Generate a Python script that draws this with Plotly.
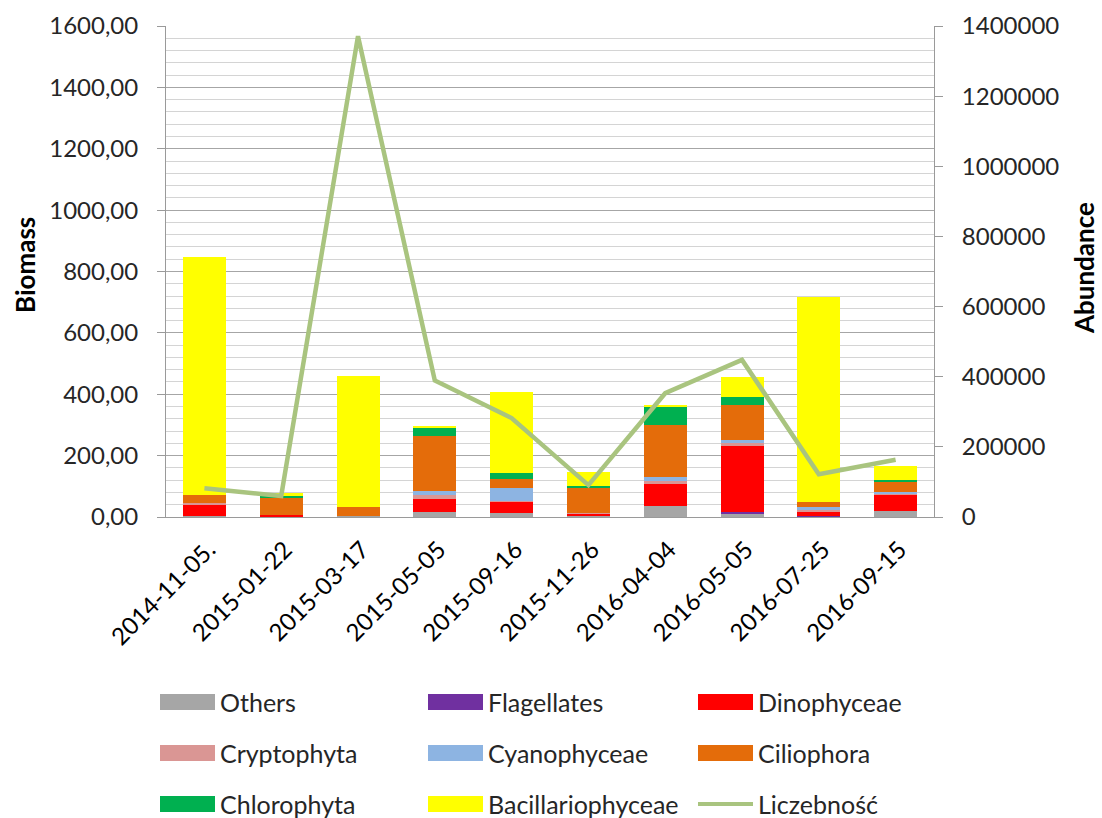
import plotly.graph_objects as go

dates = ["2014-11-05.", "2015-01-22", "2015-03-17", "2015-05-05", "2015-09-16",
         "2015-11-26", "2016-04-04", "2016-05-05", "2016-07-25", "2016-09-15"]

others = [3, 0, 3, 17, 12, 2, 35, 12, 0, 21]
flagellates = [0, 0, 0, 0, 0, 0, 0, 3, 3, 0]
dinophyceae = [37, 5, 0, 42, 38, 8, 73, 218, 16, 51]
cryptophyta = [5, 0, 0, 13, 3, 3, 9, 8, 5, 5]
cyanophyceae = [0, 0, 0, 12, 41, 0, 13, 9, 8, 6]
ciliophora = [27, 58, 29, 179, 30, 81, 169, 114, 16, 33]
chlorophyta = [0, 4, 0, 30, 19, 7, 58, 28, 0, 5]
bacillariophyceae = [775, 11, 427, 5, 263, 47, 7, 63, 670, 44]
liczebnosc = [82000, 60000, 1371000, 389000, 282000, 91000, 353000, 448000, 122000, 163000]

series_names = ["Others", "Flagellates", "Dinophyceae", "Cryptophyta", "Cyanophyceae",
                "Ciliophora", "Chlorophyta", "Bacillariophyceae"]
series_values = [others, flagellates, dinophyceae, cryptophyta, cyanophyceae,
                 ciliophora, chlorophyta, bacillariophyceae]
series_colors = ["#A6A6A6", "#7030A0", "#FF0000", "#DA9694", "#8DB4E2",
                 "#E46C0A", "#00B050", "#FFFF00"]
line_name = "Liczebność"
line_color = "#A9C47F"

FONT = "Lato"
fig = go.Figure()
for name, vals, col in zip(series_names, series_values, series_colors):
    fig.add_trace(go.Bar(x=dates, y=vals, name=name, marker=dict(color=col, line=dict(width=0)),
                         showlegend=False))
fig.add_trace(go.Scatter(x=dates, y=liczebnosc, name=line_name, mode="lines",
                         line=dict(color=line_color, width=4.5), yaxis="y2", showlegend=False))

W, H = 1102, 818
L, R, T, B = 166, 934, 26, 517
fig.update_layout(
    width=W, height=H, barmode="stack", bargap=0.44,
    separators=", ",
    paper_bgcolor="white", plot_bgcolor="white",
    margin=dict(l=L, r=W - R, t=T, b=H - B, autoexpand=False),
    font=dict(family=FONT, size=24, color="#262626"),
    xaxis=dict(type="category", showline=True, linecolor="#9a9a9a", linewidth=1, ticks="",
               tickangle=-45, tickfont=dict(size=24, color="#000000"),
               ticklabelstandoff=8, ticklabelshift=4, showgrid=False),
    yaxis=dict(range=[0, 1600], dtick=200, tickformat=".2f", showgrid=True,
               gridcolor="#a6a6a6", gridwidth=1, zeroline=False,
               showline=True, linecolor="#9a9a9a", ticks="outside", ticklen=8,
               tickcolor="#9a9a9a", ticklabelstandoff=14,
               tickfont=dict(size=24, color="#262626"),
               minor=dict(dtick=40, showgrid=True, gridcolor="#d4d4d4", gridwidth=1)),
    yaxis2=dict(range=[0, 1400000], dtick=200000, tickformat="d", overlaying="y",
                side="right", showgrid=False, zeroline=False, showline=True,
                linecolor="#9a9a9a", ticks="outside", ticklen=8, tickcolor="#9a9a9a",
                ticklabelstandoff=14, tickfont=dict(size=24, color="#262626")),
)


def px(x):
    return (x - L) / (R - L)


def py(y):
    return (B - y) / (B - T)


annotations = [
    dict(text="<b>Biomass</b>", x=px(25), y=py(265), xref="paper", yref="paper", textangle=-90,
         xanchor="center", yanchor="middle",
         showarrow=False, font=dict(size=26, color="#000000", family=FONT)),
    dict(text="<b>Abundance</b>", x=px(1084), y=py(268), xref="paper", yref="paper", textangle=-90,
         xanchor="center", yanchor="middle",
         showarrow=False, font=dict(size=26, color="#000000", family=FONT)),
]

shapes = []
leg_cols = [160, 428, 698]
leg_rows = [702, 753, 804]
legend_items = list(zip(series_names, series_colors)) + [(line_name, line_color)]
for i, (name, col) in enumerate(legend_items):
    cx = leg_cols[i % 3]
    cy = leg_rows[i // 3]
    if name == line_name:
        shapes.append(dict(type="line", xref="paper", yref="paper",
                           x0=px(cx), x1=px(cx + 55), y0=py(cy), y1=py(cy),
                           line=dict(color=col, width=4)))
    else:
        shapes.append(dict(type="rect", xref="paper", yref="paper",
                           x0=px(cx), x1=px(cx + 55), y0=py(cy - 8), y1=py(cy + 8),
                           fillcolor=col, line=dict(width=0)))
    annotations.append(dict(text=name, x=px(cx + 58), y=py(cy), xref="paper", yref="paper",
                            xanchor="left", yanchor="middle", showarrow=False,
                            font=dict(size=25, color="#262626", family=FONT)))

fig.update_layout(annotations=annotations, shapes=shapes)
fig.write_html("out.html", config={"displayModeBar": False},
               post_script="document.body.style.margin='0';document.body.style.overflow='hidden';")
